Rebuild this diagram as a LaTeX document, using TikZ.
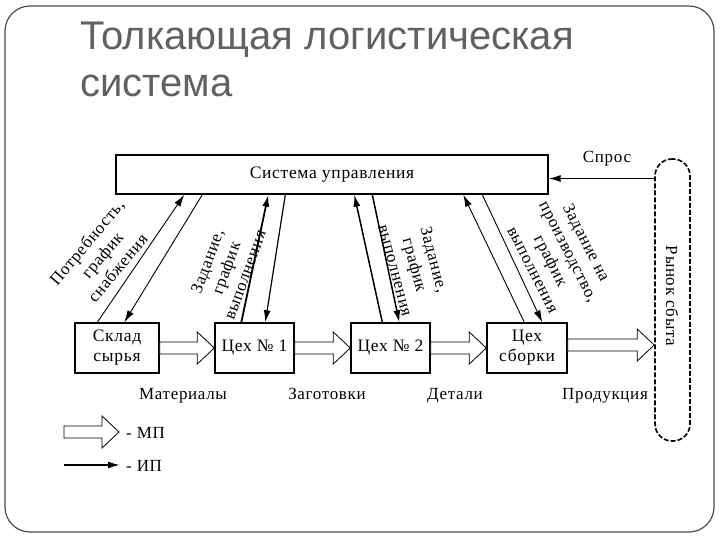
\documentclass[tikz,border=0pt]{standalone}
\usepackage{fontspec}
\setmainfont{Liberation Serif}
\newfontfamily\titlefont{Liberation Sans}
\newfontfamily\schemefont[LetterSpace=4]{Liberation Serif}
\usetikzlibrary{arrows.meta,calc}

% hollow arrow of the material flow, from #1 to the tip #2
\newcommand{\mpflow}[2]{%
  \draw[mp] ($(#1)+(0,-6)$) -- ($(#2)+(-17,-6)$) -- ($(#2)+(-17,-16)$) -- (#2)
    -- ($(#2)+(-17,16)$) -- ($(#2)+(-17,6)$) -- ($(#1)+(0,6)$) -- cycle;}

\begin{document}
\begin{tikzpicture}[x=1pt, y=-1pt,
    box/.style={draw, line width=1.4pt, minimum height=50pt, inner sep=1pt, align=center,
      font=\schemefont\fontsize{17.5}{20}\selectfont},
    lbl/.style={align=center, inner sep=1pt, font=\schemefont\fontsize{17}{20}\selectfont},
    ip/.style={line width=0.9pt, -{Latex[length=12pt,width=7pt]}},
    mp/.style={line width=0.8pt, fill=white}]
  \useasboundingbox (0,0) rectangle (720,540);

  % slide frame and title
  \draw[line width=1.2pt, black!70, rounded corners=25pt] (5,6) rectangle (714,532);
  \node[anchor=base west, inner sep=0pt, text=black!62,
    font=\titlefont\fontsize{40}{47}\selectfont] (title1) at (80,50) {Толкающая логистическая};
  \node[anchor=base west, inner sep=0pt, text=black!62,
    font=\titlefont\fontsize{40}{47}\selectfont] (title2) at (80,97) {система};

  % control system and shops
  \node[box, minimum width=432pt, minimum height=39pt] (cs) at (332,174.5) {Система управления};
  \node[box, minimum width=84pt] (sk) at (117,348) {Склад\\сырья};
  \node[box, minimum width=79pt] (c1) at (254.5,348) {Цех № 1};
  \node[box, minimum width=79pt] (c2) at (390.5,348) {Цех № 2};
  \node[box, minimum width=80pt] (sb) at (527,348) {Цех\\сборки};

  % market
  \node[draw, dash pattern=on 5pt off 2pt, line width=1.6pt, rounded corners=17pt,
    minimum width=35pt, minimum height=282pt, inner sep=0pt] (mkt) at (672.5,300) {};
  \node[lbl, rotate=-90] (mkttxt) at (672,296) {Рынок сбыта};

  % material flows
  \mpflow{sk.east}{c1.west}
  \mpflow{c1.east}{c2.west}
  \mpflow{c2.east}{sb.west}
  \coordinate (sbout) at ([yshift=3pt]sb.east);
  \coordinate (out) at (sbout -| mkt.west);
  \mpflow{sbout}{out}

  % information flows
  \foreach \b/\bu/\cu/\wu/\cd/\bd/\wd in {sk/23/69/0.9/87/50/0.9, c1/27/153/1.8/170/51/1.2,
      c2/32/239/1.5/257/49/1.5, sb/38/348/0.9/367/56/0.9} {
    \draw[ip, line width=\wu pt] ([xshift=\bu pt]\b.north west) -- ([xshift=\cu pt]cs.south west);
    \draw[ip, line width=\wd pt] ([xshift=\cd pt]cs.south west) -- ([xshift=\bd pt]\b.north west);
  }
  \coordinate (sp) at ([yshift=-4pt]cs.east);
  \draw[ip] (sp -| mkt.west) -- (sp);
  \node[lbl, anchor=base] (spros) at (607,163) {Спрос};

  % labels on the information flows
  \node[lbl, rotate=50] (need) at (102,255) {Потребность,\\график\\снабжения};
  \node[lbl, rotate=70] (task1) at (226,268) {Задание,\\график\\выполнения};
  \node[lbl, rotate=-75] (task2) at (415,265) {Задание,\\график\\выполнения};
  \node[lbl, rotate=-63] (task3) at (560,256) {Задание на\\производство,\\график\\выполнения};

  % names of the material flows
  \node[lbl, anchor=base] (mat) at (183,399) {Материалы};
  \node[lbl, anchor=base] (zag) at (327,399) {Заготовки};
  \node[lbl, anchor=base] (det) at (455,399) {Детали};
  \node[lbl, anchor=base] (prod) at (605,399) {Продукция};

  % legend
  \coordinate (lgm1) at (64,432);
  \coordinate (lgm2) at (119,432);
  \mpflow{lgm1}{lgm2}
  \node[lbl, anchor=base west] (mpname) at (125,438) {- МП};
  \coordinate (lgi1) at (64,465);
  \coordinate (lgi2) at (120,465);
  \draw[ip, line width=1.5pt] (lgi1) -- (lgi2);
  \node[lbl, anchor=base west] (ipname) at (125,471) {- ИП};
\end{tikzpicture}
\end{document}
